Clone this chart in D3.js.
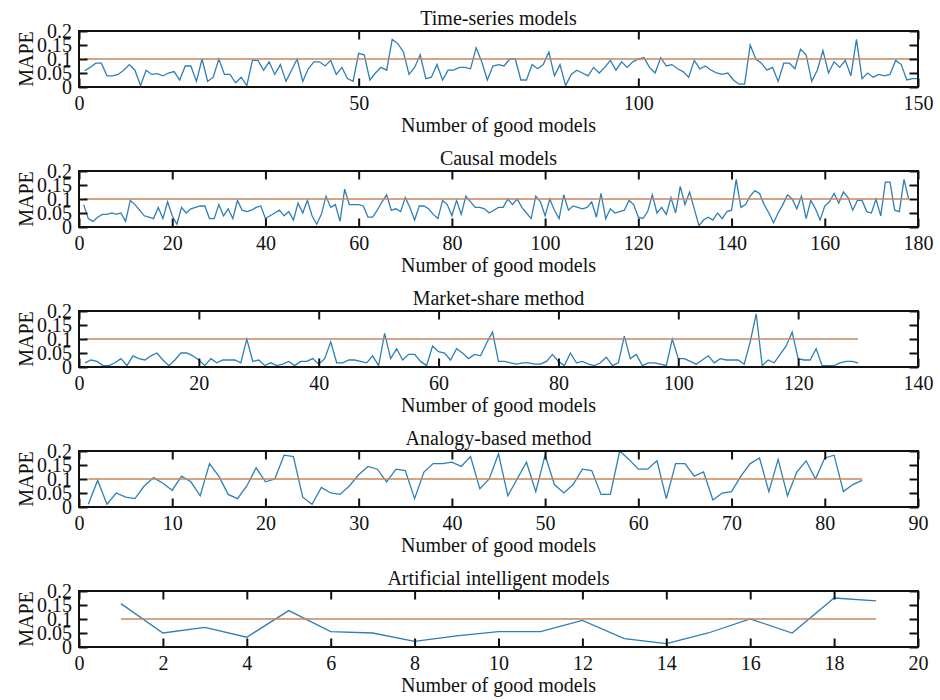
<!DOCTYPE html>
<html>
<head>
  <meta charset="utf-8">
  <style>
    body { margin: 0; background: #fff; }
    text { font-family: 'Liberation Serif', 'Times New Roman', serif; fill: #111; }
  </style>
</head>
<body>
  <svg id="chart" width="940" height="700"></svg>
  <script src="https://d3js.org/d3.v7.min.js"></script>
  <script>
    // panel titles and x extents
    const titles = ['Time-series models', 'Causal models', 'Market-share method', 'Analogy-based method', 'Artificial intelligent models']
    const xMax = [150, 180, 140, 90, 20]
    const xTicks = [
      [0, 50, 100, 150],
      [0, 20, 40, 60, 80, 100, 120, 140, 160, 180],
      [0, 20, 40, 60, 80, 100, 120, 140],
      [0, 10, 20, 30, 40, 50, 60, 70, 80, 90],
      [0, 2, 4, 6, 8, 10, 12, 14, 16, 18, 20]
    ]
    const yTicks = [0, 0.05, 0.1, 0.15, 0.2]
    const yTickLabels = ['0', '0.05', '0.1', '0.15', '0.2']
    const threshold = 0.1

    // MAPE of each good model
    const timeSeries = [
      0.058,0.07,0.085,0.085,0.04,0.04,0.045,0.06,0.08,0.06,
      0.005,0.06,0.045,0.048,0.04,0.05,0.055,0.025,0.075,0.075,
      0.02,0.1,0.02,0.035,0.1,0.045,0.045,0.015,0.035,0.005,
      0.095,0.095,0.06,0.09,0.045,0.08,0.02,0.06,0.1,0.02,
      0.065,0.09,0.09,0.075,0.095,0.045,0.07,0.03,0.02,0.12,
      0.115,0.025,0.05,0.07,0.06,0.17,0.155,0.125,0.045,0.07,
      0.115,0.03,0.035,0.08,0.025,0.06,0.06,0.07,0.07,0.065,
      0.14,0.09,0.025,0.075,0.08,0.075,0.1,0.1,0.025,0.025,
      0.08,0.065,0.08,0.125,0.04,0.08,0.005,0.045,0.06,0.05,
      0.04,0.07,0.05,0.07,0.095,0.06,0.09,0.07,0.09,0.1,
      0.105,0.07,0.05,0.105,0.075,0.08,0.065,0.055,0.035,0.095,
      0.065,0.075,0.06,0.05,0.045,0.05,0.025,0.01,0.01,0.15,
      0.1,0.085,0.06,0.07,0.02,0.085,0.085,0.065,0.135,0.115,
      0.02,0.06,0.13,0.05,0.09,0.07,0.095,0.04,0.17,0.03,
      0.05,0.035,0.045,0.04,0.045,0.095,0.08,0.025,0.03,0.03
    ]
    const causal = [
      0.08,0.03,0.02,0.035,0.045,0.045,0.05,0.045,0.05,0.02,
      0.095,0.08,0.06,0.04,0.035,0.03,0.07,0.03,0.09,0.04,
      0.01,0.07,0.05,0.065,0.07,0.075,0.075,0.03,0.03,0.08,
      0.04,0.065,0.03,0.095,0.06,0.055,0.06,0.07,0.075,0.03,
      0.04,0.05,0.06,0.04,0.055,0.025,0.085,0.05,0.095,0.04,
      0.01,0.045,0.11,0.07,0.08,0.02,0.135,0.08,0.08,0.08,
      0.075,0.035,0.035,0.06,0.09,0.115,0.06,0.065,0.055,0.105,
      0.07,0.025,0.075,0.075,0.065,0.045,0.03,0.095,0.08,0.04,
      0.095,0.045,0.11,0.09,0.07,0.07,0.065,0.05,0.06,0.07,
      0.07,0.1,0.08,0.1,0.07,0.05,0.03,0.11,0.09,0.04,
      0.1,0.06,0.03,0.115,0.06,0.075,0.07,0.065,0.07,0.09,
      0.035,0.12,0.03,0.065,0.05,0.055,0.06,0.095,0.08,0.035,
      0.03,0.055,0.115,0.05,0.07,0.045,0.105,0.05,0.145,0.08,
      0.125,0.065,0.005,0.025,0.035,0.025,0.05,0.03,0.055,0.06,
      0.17,0.07,0.08,0.11,0.13,0.12,0.08,0.05,0.015,0.05,
      0.08,0.115,0.1,0.065,0.11,0.03,0.095,0.065,0.025,0.075,
      0.09,0.12,0.085,0.125,0.105,0.06,0.095,0.095,0.055,0.05,
      0.1,0.04,0.16,0.16,0.06,0.055,0.17,0.1
    ]
    const marketShare = [
      0.015,0.025,0.02,0.005,0.005,0.015,0.03,0.005,0.04,0.03,
      0.025,0.04,0.05,0.025,0.005,0.025,0.05,0.05,0.04,0.025,
      0.005,0.03,0.015,0.025,0.025,0.025,0.015,0.1,0.02,0.025,
      0.005,0.015,0.005,0.01,0.02,0.005,0.02,0.02,0.03,0.01,
      0.03,0.09,0.015,0.015,0.025,0.025,0.02,0.015,0.04,0.005,
      0.12,0.03,0.065,0.025,0.045,0.045,0.02,0.005,0.075,0.055,
      0.05,0.025,0.065,0.05,0.03,0.045,0.04,0.085,0.125,0.02,
      0.02,0.015,0.01,0.015,0.015,0.01,0.01,0.02,0.045,0.02,
      0.005,0.05,0.015,0.02,0.01,0.005,0.015,0.035,0.005,0.015,
      0.11,0.03,0.045,0.005,0.015,0.015,0.01,0.005,0.1,0.03,
      0.03,0.02,0.01,0.025,0.04,0.015,0.03,0.025,0.025,0.025,
      0.01,0.09,0.19,0.005,0.025,0.015,0.045,0.075,0.125,0.03,
      0.025,0.025,0.065,0.005,0.005,0.005,0.015,0.02,0.02,0.015
    ]
    const analogy = [
      0.01,0.095,0.01,0.05,0.035,0.03,0.075,0.105,0.085,0.06,
      0.11,0.09,0.04,0.155,0.11,0.045,0.03,0.075,0.14,0.09,
      0.1,0.185,0.18,0.035,0.01,0.07,0.05,0.045,0.075,0.115,
      0.145,0.135,0.09,0.135,0.13,0.03,0.125,0.155,0.155,0.16,
      0.145,0.18,0.065,0.1,0.19,0.04,0.1,0.16,0.055,0.185,
      0.08,0.05,0.08,0.135,0.13,0.045,0.045,0.2,0.17,0.135,
      0.135,0.165,0.03,0.155,0.155,0.11,0.125,0.025,0.05,0.055,
      0.11,0.155,0.175,0.055,0.17,0.04,0.125,0.165,0.1,0.175,
      0.185,0.055,0.08,0.095
    ]
    const aiModels = [0.155,0.05,0.07,0.035,0.13,0.055,0.05,0.02,0.04,0.055,0.055,0.095,0.03,0.012,0.05,0.1,0.05,0.175,0.165]

    const series = [timeSeries, causal, marketShare, analogy, aiModels]

    const left = 79, right = 918, top0 = 31, h = 56, step = 140
    const tick = 8.5
    const blue = '#2e7fb4', orange = '#c9855a'

    const svg = d3.select('#chart')

    series.forEach((vals, i) => {
      const g = svg.append('g').attr('transform', `translate(0,${top0 + i * step})`)
      const x = d3.scaleLinear().domain([0, xMax[i]]).range([left, right])
      const y = d3.scaleLinear().domain([0, 0.2]).range([h, 0])

      const line = d3.line().x((d, j) => x(j + 1)).y(d => y(d))
      g.append('path').datum(vals)
        .attr('d', line)
        .attr('fill', 'none').attr('stroke', blue).attr('stroke-width', 1.3)

      // threshold from first to last model
      g.append('path').datum([1, vals.length])
        .attr('d', d3.line().x(d => x(d)).y(() => y(threshold)))
        .attr('fill', 'none').attr('stroke', orange).attr('stroke-width', 1.5)

      const bottom = g.append('g').attr('transform', `translate(0,${h})`)
        .call(d3.axisBottom(x).tickValues(xTicks[i]).tickFormat(d3.format('d'))
          .tickSizeInner(-tick).tickSizeOuter(0).tickPadding(9))
      const topAx = g.append('g')
        .call(d3.axisTop(x).tickValues(xTicks[i]).tickFormat('')
          .tickSizeInner(-tick).tickSizeOuter(0))
      const leftAx = g.append('g').attr('transform', `translate(${left},0)`)
        .call(d3.axisLeft(y).tickValues(yTicks).tickFormat((d, k) => yTickLabels[k])
          .tickSizeInner(-tick).tickSizeOuter(0).tickPadding(7))
      const rightAx = g.append('g').attr('transform', `translate(${right},0)`)
        .call(d3.axisRight(y).tickValues(yTicks).tickFormat('')
          .tickSizeInner(-tick).tickSizeOuter(0))

      ;[bottom, topAx, leftAx, rightAx].forEach(a => {
        a.select('.domain').remove()
        a.selectAll('line').attr('stroke', '#111').attr('stroke-width', 2)
        a.attr('font-size', 20).attr('font-family', null)
        a.selectAll('text').attr('fill', '#111')
      })

      g.append('rect')
        .attr('x', left).attr('y', 0)
        .attr('width', right - left).attr('height', h)
        .attr('fill', 'none').attr('stroke', '#111').attr('stroke-width', 2)

      g.append('text')
        .attr('x', (left + right) / 2).attr('y', -6)
        .attr('text-anchor', 'middle').attr('font-size', 20)
        .text(titles[i])

      g.append('text')
        .attr('x', (left + right) / 2).attr('y', h + 44.5)
        .attr('text-anchor', 'middle').attr('font-size', 20)
        .text('Number of good models')

      g.append('text')
        .attr('transform', `translate(33,${h / 2}) rotate(-90)`)
        .attr('text-anchor', 'middle').attr('font-size', 20)
        .text('MAPE')
    })
  </script>
</body>
</html>
